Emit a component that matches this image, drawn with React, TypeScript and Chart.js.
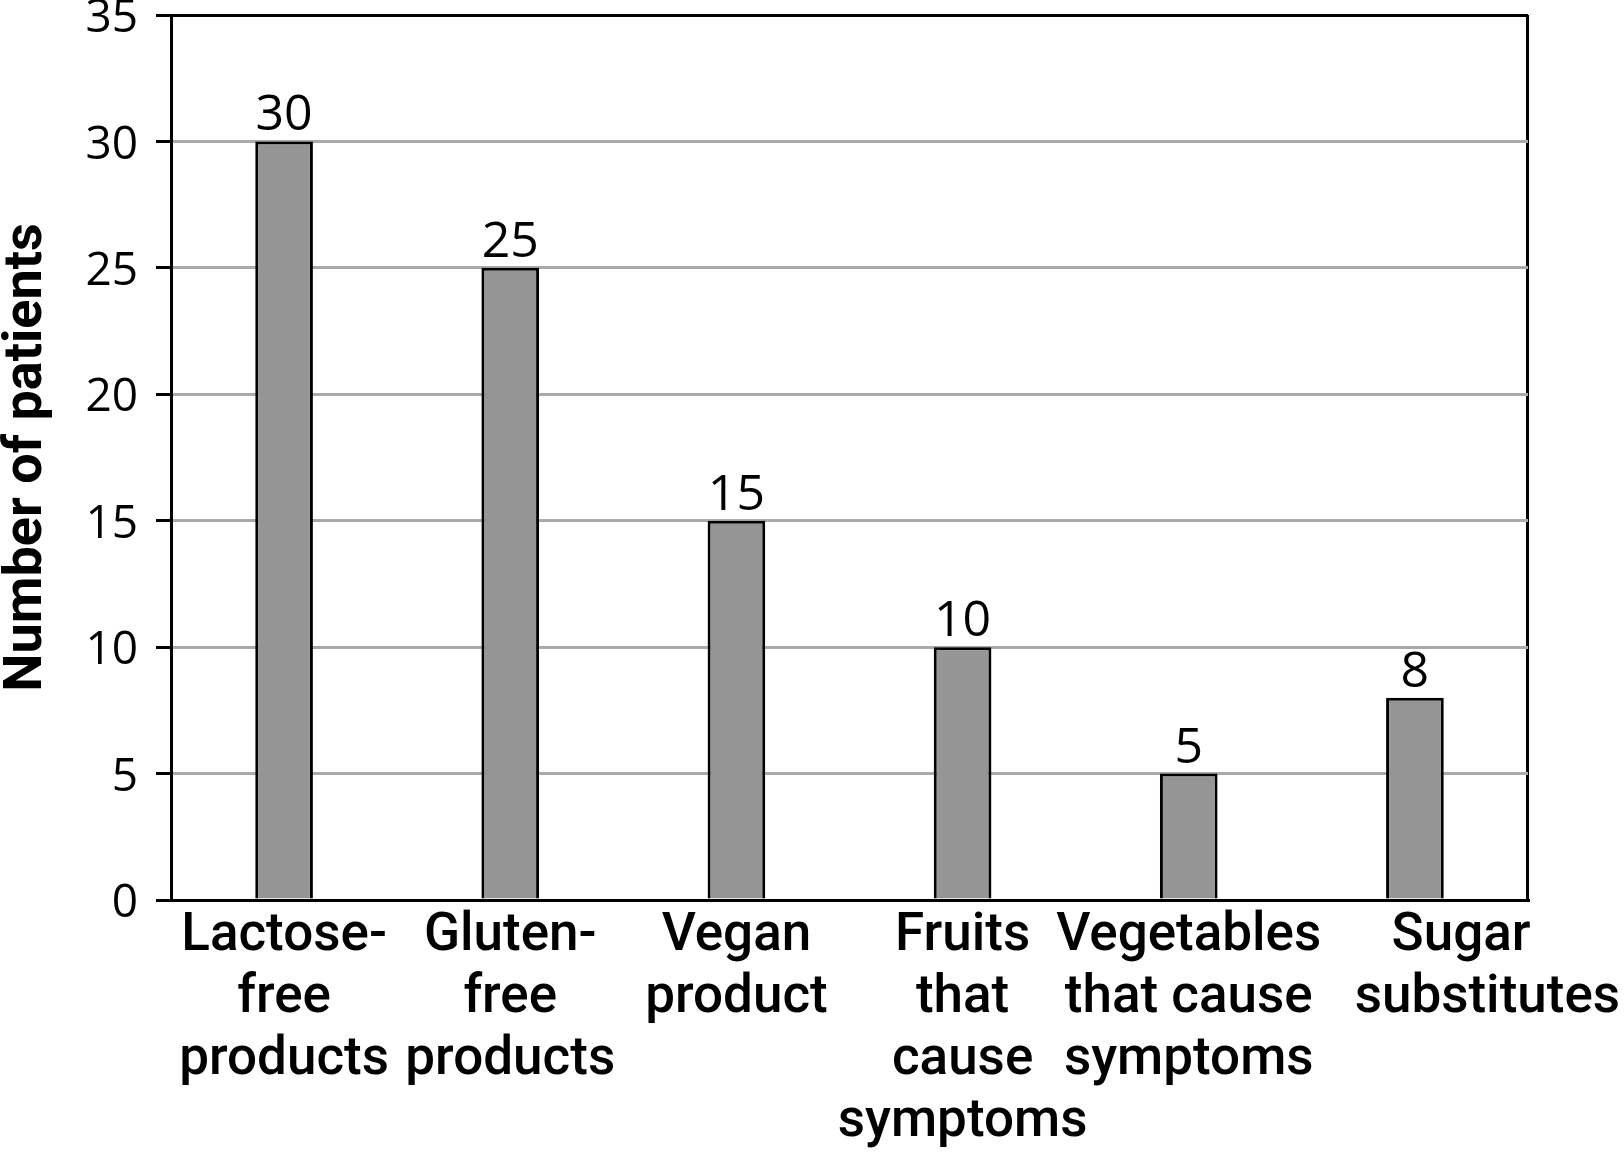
import React, { useEffect, useRef } from "react";
import { Chart, registerables } from "chart.js";

Chart.register(...registerables);

// ---- data ----
const categories: string[][] = [
  ["Lactose-", "free", "products"],
  ["Gluten-", "free", "products"],
  ["Vegan", "product"],
  ["Fruits", "that", "cause", "symptoms"],
  ["Vegetables", "that cause", "symptoms"],
  ["Sugar", "substitutes"],
];
const patients: number[] = [30, 25, 15, 10, 5, 8];
const yMin = 0;
const yMax = 35;
const yStep = 5;
const yTitle = "Number of patients";

const LIGHT_FONT = "'Open Sans', 'DejaVu Sans', sans-serif";
const BOLD_FONT = "Roboto, 'Noto Sans', sans-serif";

const valueLabels = {
  id: "valueLabels",
  afterDatasetsDraw(chart: any) {
    const { ctx } = chart;
    const meta = chart.getDatasetMeta(0);
    ctx.save();
    ctx.font = `400 50px ${LIGHT_FONT}`;
    ctx.fillStyle = "#000";
    ctx.textAlign = "center";
    ctx.textBaseline = "alphabetic";
    meta.data.forEach((el: any, i: number) => {
      ctx.fillText(String(patients[i]), el.x, el.y - 11);
    });
    ctx.restore();
  },
};

export default function App() {
  const ref = useRef<HTMLCanvasElement | null>(null);

  useEffect(() => {
    if (!ref.current) return;
    const last = categories.length - 1;
    const chart = new Chart(ref.current, {
      type: "bar",
      data: {
        labels: categories,
        datasets: [
          {
            data: patients,
            backgroundColor: "#959595",
            borderColor: "#000",
            borderWidth: 3,
            barPercentage: 0.255,
            categoryPercentage: 1,
          },
        ],
      },
      options: {
        responsive: false,
        animation: false,
        devicePixelRatio: 1,
        layout: { padding: { top: 15, right: 96, left: 0, bottom: 0 } },
        plugins: {
          legend: { display: false },
          tooltip: { enabled: false },
        },
        scales: {
          x: {
            offset: true,
            grid: {
              offset: true,
              drawTicks: false,
              lineWidth: 3,
              color: (c: any) => (c.type === "scale" ? "#000" : "rgba(0,0,0,0)"),
            },
            border: { display: true, color: "#000", width: 3, z: 1 },
            ticks: {
              color: "#000",
              padding: 6,
              maxRotation: 0,
              autoSkip: false,
              font: { family: BOLD_FONT, size: 53, weight: "500", lineHeight: 1.17 },
              callback: function (this: any, _v: any, i: number) {
                const lines = categories[i];
                // last label sits shifted to the right in the original figure
                if (i === last) return lines.map((l, k) => " ".repeat(k === 0 ? 7 : 11) + l);
                return lines;
              },
            },
            afterFit: (s: any) => {
              s.height = 260;
              s.paddingLeft = 0;
              s.paddingRight = 0;
            },
          },
          y: {
            min: yMin,
            max: yMax,
            ticks: {
              stepSize: yStep,
              color: "#000",
              padding: 18,
              labelOffset: 4,
              font: { family: LIGHT_FONT, size: 46, weight: "400" },
            },
            grid: {
              lineWidth: 3,
              tickLength: 15,
              tickWidth: 3,
              tickColor: "#000",
              color: (c: any) => (c.tick && c.tick.value === yMax ? "#000" : "#aaaaaa"),
            },
            border: { display: true, color: "#000", width: 3, z: 1 },
            title: {
              display: true,
              text: yTitle,
              color: "#000",
              padding: 0,
              font: { family: BOLD_FONT, size: 54, weight: "bold", lineHeight: 1 },
            },
            afterFit: (s: any) => {
              s.width = 171;
              s.paddingTop = 0;
              s.paddingBottom = 0;
            },
          },
        },
      },
      plugins: [valueLabels],
    });
    return () => chart.destroy();
  }, []);

  return (
    <div style={{ position: "absolute", left: 0, top: 0, width: 1624, height: 1160, background: "#fff" }}>
      <canvas ref={ref} width={1624} height={1160} />
    </div>
  );
}
